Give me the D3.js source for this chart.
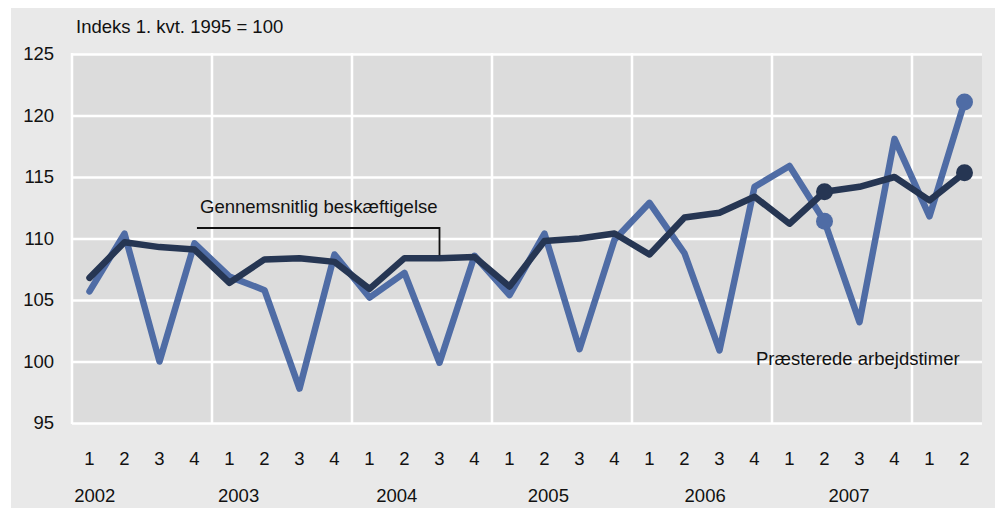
<!DOCTYPE html>
<html>
<head>
<meta charset="utf-8">
<script src="https://cdn.jsdelivr.net/npm/d3@7"></script>
<style>
  html, body { margin: 0; padding: 0; background: #ffffff; }
  svg { display: block; }
  text { font-family: "Liberation Sans", Arial, sans-serif; fill: #111; }
</style>
</head>
<body>
<svg id="chart" width="998" height="508"></svg>
<script>
// ---- Data ----
const quarterLabels = ["1","2","3","4","1","2","3","4","1","2","3","4","1","2","3","4","1","2","3","4","1","2","3","4","1","2"];
const yearLabels = ["2002","2003","2004","2005","2006","2007"];
// year label centre expressed on the quarter axis (index units)
const yearLabelPos = [0.15, 4.26, 8.78, 13.11, 17.59, 21.7];
const yTicks = [95, 100, 105, 110, 115, 120, 125];

// Præsterede arbejdstimer
const hoursWorked = [105.7, 110.4, 100.0, 109.6, 106.9, 105.8, 97.8, 108.7, 105.2, 107.2,
                     99.9, 108.6, 105.4, 110.4, 101.0, 109.9, 112.9, 108.8, 100.9, 114.2,
                     115.9, 111.4, 103.2, 118.1, 111.8, 121.1];
// Gennemsnitlig beskæftigelse
const employment = [106.8, 109.7, 109.3, 109.1, 106.4, 108.3, 108.4, 108.1, 105.9, 108.4,
                    108.4, 108.5, 106.1, 109.8, 110.0, 110.4, 108.7, 111.7, 112.1, 113.4,
                    111.2, 113.8, 114.2, 115.0, 113.1, 115.35];
const markerIdx = [21, 25];

const titleText = "Indeks 1. kvt. 1995 = 100";
const employmentLabel = "Gennemsnitlig beskæftigelse";
const hoursLabel = "Præsterede arbejdstimer";

// ---- Layout ----
const FS = 18.5;
const plot = { left: 72, right: 982, top: 54, bottom: 423 };
const svg = d3.select("#chart");

svg.append("rect").attr("x", 11).attr("y", 8).attr("width", 984).attr("height", 500).attr("fill", "#e9e9e9");
svg.append("rect").attr("x", plot.left).attr("y", plot.top)
   .attr("width", plot.right - plot.left).attr("height", plot.bottom - plot.top).attr("fill", "#dcdcdc");

const n = quarterLabels.length;
const x = d3.scaleLinear().domain([-0.5, n - 0.5]).range([plot.left, plot.right]);
const y = d3.scaleLinear().domain([95, 125]).range([plot.bottom, plot.top]);
const xb = d3.scaleBand().domain(d3.range(n)).range([plot.left, plot.right]);

// horizontal gridlines + y labels
const yAxis = d3.axisLeft(y).tickValues(yTicks).tickSize(-(plot.right - plot.left)).tickPadding(18).tickFormat(d3.format("d"));
const gy = svg.append("g").attr("transform", `translate(${plot.left},0)`).call(yAxis);
gy.select(".domain").remove();
gy.selectAll("line").attr("stroke", "#ffffff").attr("stroke-width", 2.5);
gy.selectAll("text").attr("font-size", FS).attr("fill", "#111").attr("font-family", "Liberation Sans, Arial, sans-serif");

// vertical year gridlines
const yearBounds = d3.range(0, n, 4).map(i => i - 0.5);
svg.append("g").selectAll("line").data(yearBounds).join("line")
   .attr("x1", d => x(d)).attr("x2", d => x(d))
   .attr("y1", plot.top - 1).attr("y2", plot.bottom + 1)
   .attr("stroke", "#ffffff").attr("stroke-width", 2.5);

// quarter labels
const xAxis = d3.axisBottom(xb).tickSize(0).tickFormat(i => quarterLabels[i]);
const gx = svg.append("g").call(xAxis);
gx.select(".domain").remove();
gx.selectAll("text").attr("y", 465).attr("dy", null)
  .attr("font-size", FS).attr("fill", "#111").attr("font-family", "Liberation Sans, Arial, sans-serif");

// year labels
svg.append("g").selectAll("text").data(yearLabels).join("text")
   .attr("x", (d, i) => x(yearLabelPos[i])).attr("y", 501.5)
   .attr("text-anchor", "middle").attr("font-size", FS).text(d => d);

// title
svg.append("text").attr("x", 76).attr("y", 33).attr("font-size", FS).text(titleText);

// lines
const line = d3.line().x((d, i) => x(i)).y(d => y(d));
svg.append("path").datum(hoursWorked).attr("d", line)
   .attr("fill", "none").attr("stroke", "#4f6ca5").attr("stroke-width", 6.5)
   .attr("stroke-linejoin", "round").attr("stroke-linecap", "round");
svg.append("path").datum(employment).attr("d", line)
   .attr("fill", "none").attr("stroke", "#263653").attr("stroke-width", 6.5)
   .attr("stroke-linejoin", "round").attr("stroke-linecap", "round");

// markers
svg.append("g").selectAll("circle").data(markerIdx).join("circle")
   .attr("cx", i => x(i)).attr("cy", i => y(hoursWorked[i])).attr("r", 8.5).attr("fill", "#4f6ca5");
svg.append("g").selectAll("circle").data(markerIdx).join("circle")
   .attr("cx", i => x(i)).attr("cy", i => y(employment[i])).attr("r", 8.5).attr("fill", "#263653");

// annotation: employment
const annIdx = 10;
svg.append("path")
   .attr("d", `M${x(3.07)},228 H${x(annIdx)} V${y(employment[annIdx]) - 3}`)
   .attr("fill", "none").attr("stroke", "#111").attr("stroke-width", 1.8);
svg.append("text").attr("x", 200).attr("y", 213).attr("font-size", FS).text(employmentLabel);

// annotation: hours worked
svg.append("text").attr("x", 756).attr("y", 365).attr("font-size", FS).text(hoursLabel);
</script>
</body>
</html>
